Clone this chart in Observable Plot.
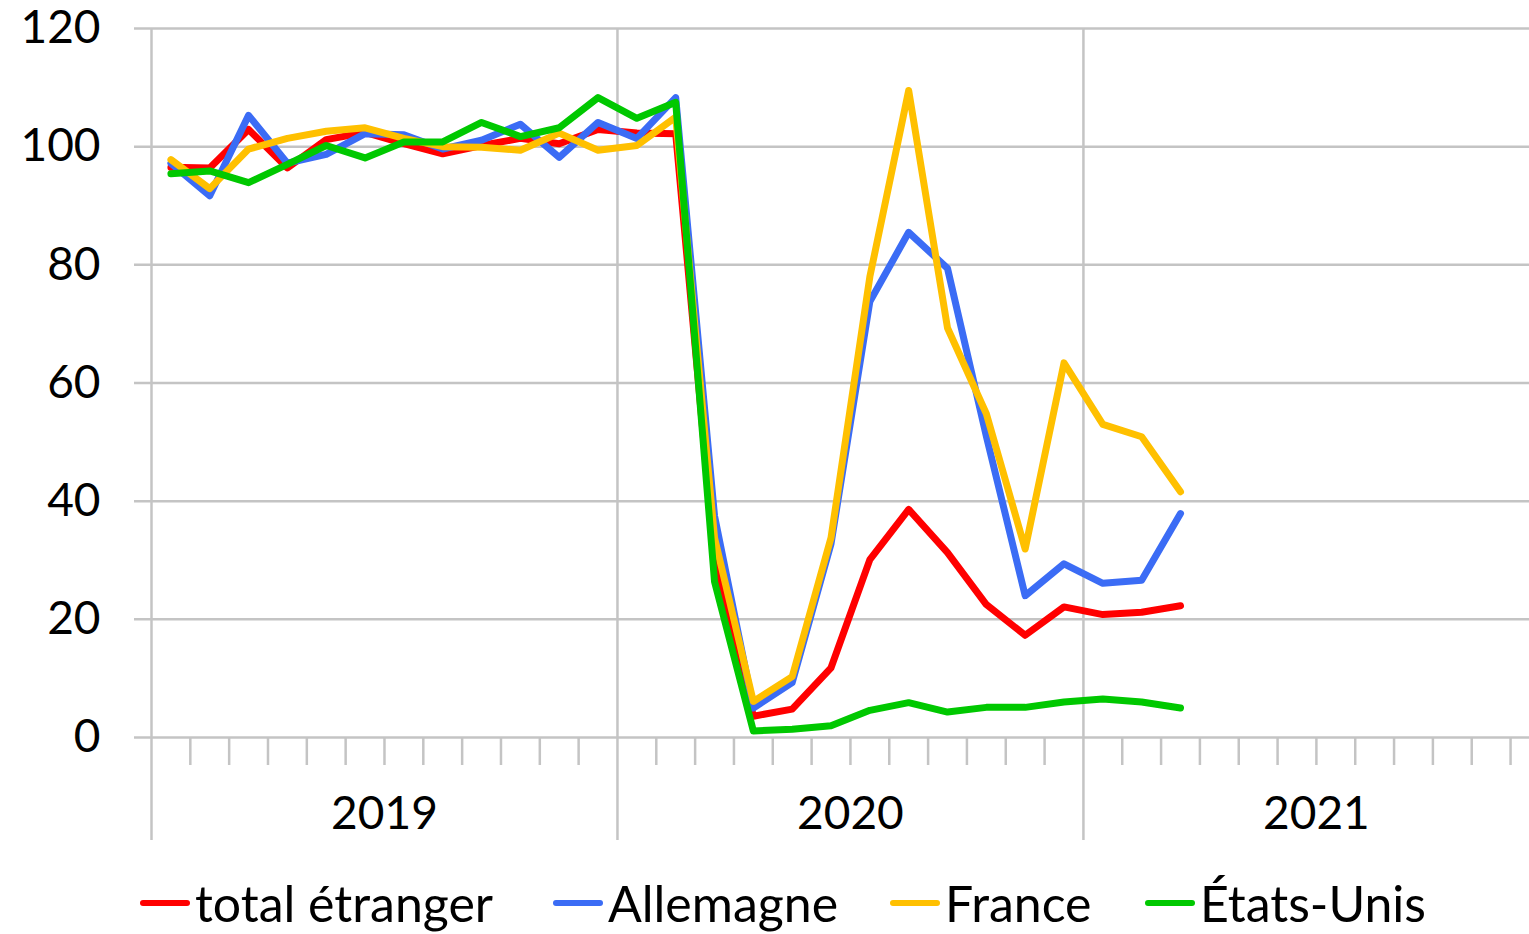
<!DOCTYPE html>
<html>
<head>
<meta charset="utf-8">
<script src="https://cdn.jsdelivr.net/npm/d3@7"></script>
<script src="https://cdn.jsdelivr.net/npm/@observablehq/plot@0.6"></script>
<style>
  html, body { margin: 0; padding: 0; background: #fff; overflow: hidden; }
  #chart { width: 1529px; }
  #legend { position: relative; height: 74px; font-family: Lato, "Open Sans", sans-serif; font-size: 50px; color: #000; }
  .item { position: absolute; top: 8px; height: 70px; display: flex; align-items: center; }
  .sw { width: 50px; height: 6px; border-radius: 3px; margin-right: 5px; }
</style>
</head>
<body>
<div id="chart"></div>
<div id="legend"></div>
<script>
const years = ["2019", "2020", "2021"];
const yTicks = [0, 20, 40, 60, 80, 100, 120];
const seriesNames = ["total étranger", "Allemagne", "France", "États-Unis"];
const seriesColors = ["#ff0000", "#3b6cf5", "#ffc000", "#00c800"];
// monthly values, Jan 2019 .. Mar 2021
const totalEtranger = [96.5, 96.4, 102.9, 96.4, 101.2, 102.4, 100.5, 98.8, 100.2, 101.4, 100.5, 102.9, 102.3, 102.2, 30.2, 3.6, 4.8, 11.8, 30.1, 38.6, 31.3, 22.5, 17.3, 22.1, 20.8, 21.2, 22.3];
const allemagne = [97.2, 91.7, 105.3, 97.2, 98.7, 102.2, 102.0, 99.6, 101.1, 103.8, 98.2, 104.1, 101.4, 108.3, 37.5, 5.0, 9.3, 32.8, 73.8, 85.5, 79.4, 51.0, 24.0, 29.4, 26.1, 26.6, 37.9];
const france = [97.8, 92.9, 99.6, 101.4, 102.6, 103.2, 101.4, 100.0, 99.9, 99.4, 102.3, 99.4, 100.2, 105.0, 33.8, 6.1, 10.3, 33.8, 78.0, 109.5, 69.3, 54.8, 31.9, 63.4, 53.0, 50.9, 41.6];
const etatsUnis = [95.4, 95.9, 93.9, 97.0, 100.2, 98.1, 100.8, 100.8, 104.1, 101.7, 103.2, 108.3, 104.8, 107.5, 26.4, 1.1, 1.4, 2.0, 4.6, 5.9, 4.3, 5.1, 5.1, 6.0, 6.5, 6.0, 5.0];

const allSeries = [totalEtranger, allemagne, france, etatsUnis];
const data = [];
allSeries.forEach((vals, s) => vals.forEach((v, i) => data.push({month: i + 0.5, value: v, series: seriesNames[s]})));

const nMonths = years.length * 12;
const monthBounds = d3.range(1, nMonths).filter(m => m % 12 !== 0);
const yearBounds = d3.range(0, nMonths + 1, 12);
const yearCenters = years.map((y, k) => k * 12 + 6);
const grid = "#c4c4c4";

const plot = Plot.plot({
  width: 1529,
  height: 860,
  marginLeft: 151,
  marginRight: 0,
  marginTop: 28,
  marginBottom: 123,
  style: {fontFamily: "Lato, 'Open Sans', sans-serif", fontSize: "46px", color: "#000", background: "#fff", overflow: "hidden"},
  x: {domain: [0, nMonths], range: [151, 151 + 38.83 * nMonths], label: null},
  y: {domain: [0, 120], label: null},
  color: {domain: seriesNames, range: seriesColors},
  marks: [
    Plot.ruleY(yTicks, {stroke: grid, strokeWidth: 2.5, insetLeft: -17}),
    Plot.ruleX(yearBounds, {stroke: grid, strokeWidth: 2.5, insetBottom: -103}),
    Plot.axisX(monthBounds, {tickSize: 28, tickFormat: () => "", stroke: grid, strokeWidth: 2.5, label: null}),
    Plot.axisX(yearCenters, {tickSize: 0, tickPadding: 59, tickFormat: (d, i) => years[i], fontSize: 46, fill: "#000", label: null}),
    Plot.axisY(yTicks, {tickSize: 0, tickPadding: 51, fontSize: 46, fill: "#000", label: null}),
    Plot.line(data, {x: "month", y: "value", z: "series", stroke: "series", strokeWidth: 7, strokeLinejoin: "round", strokeLinecap: "round"})
  ]
});
document.getElementById("chart").appendChild(plot);

const legend = document.getElementById("legend");
const lefts = [140, 553, 890, 1145];
seriesNames.forEach((name, i) => {
  const it = document.createElement("div");
  it.className = "item";
  it.style.left = lefts[i] + "px";
  it.innerHTML = `<span class="sw" style="background:${seriesColors[i]}"></span><span>${name}</span>`;
  legend.appendChild(it);
});
</script>
</body>
</html>
